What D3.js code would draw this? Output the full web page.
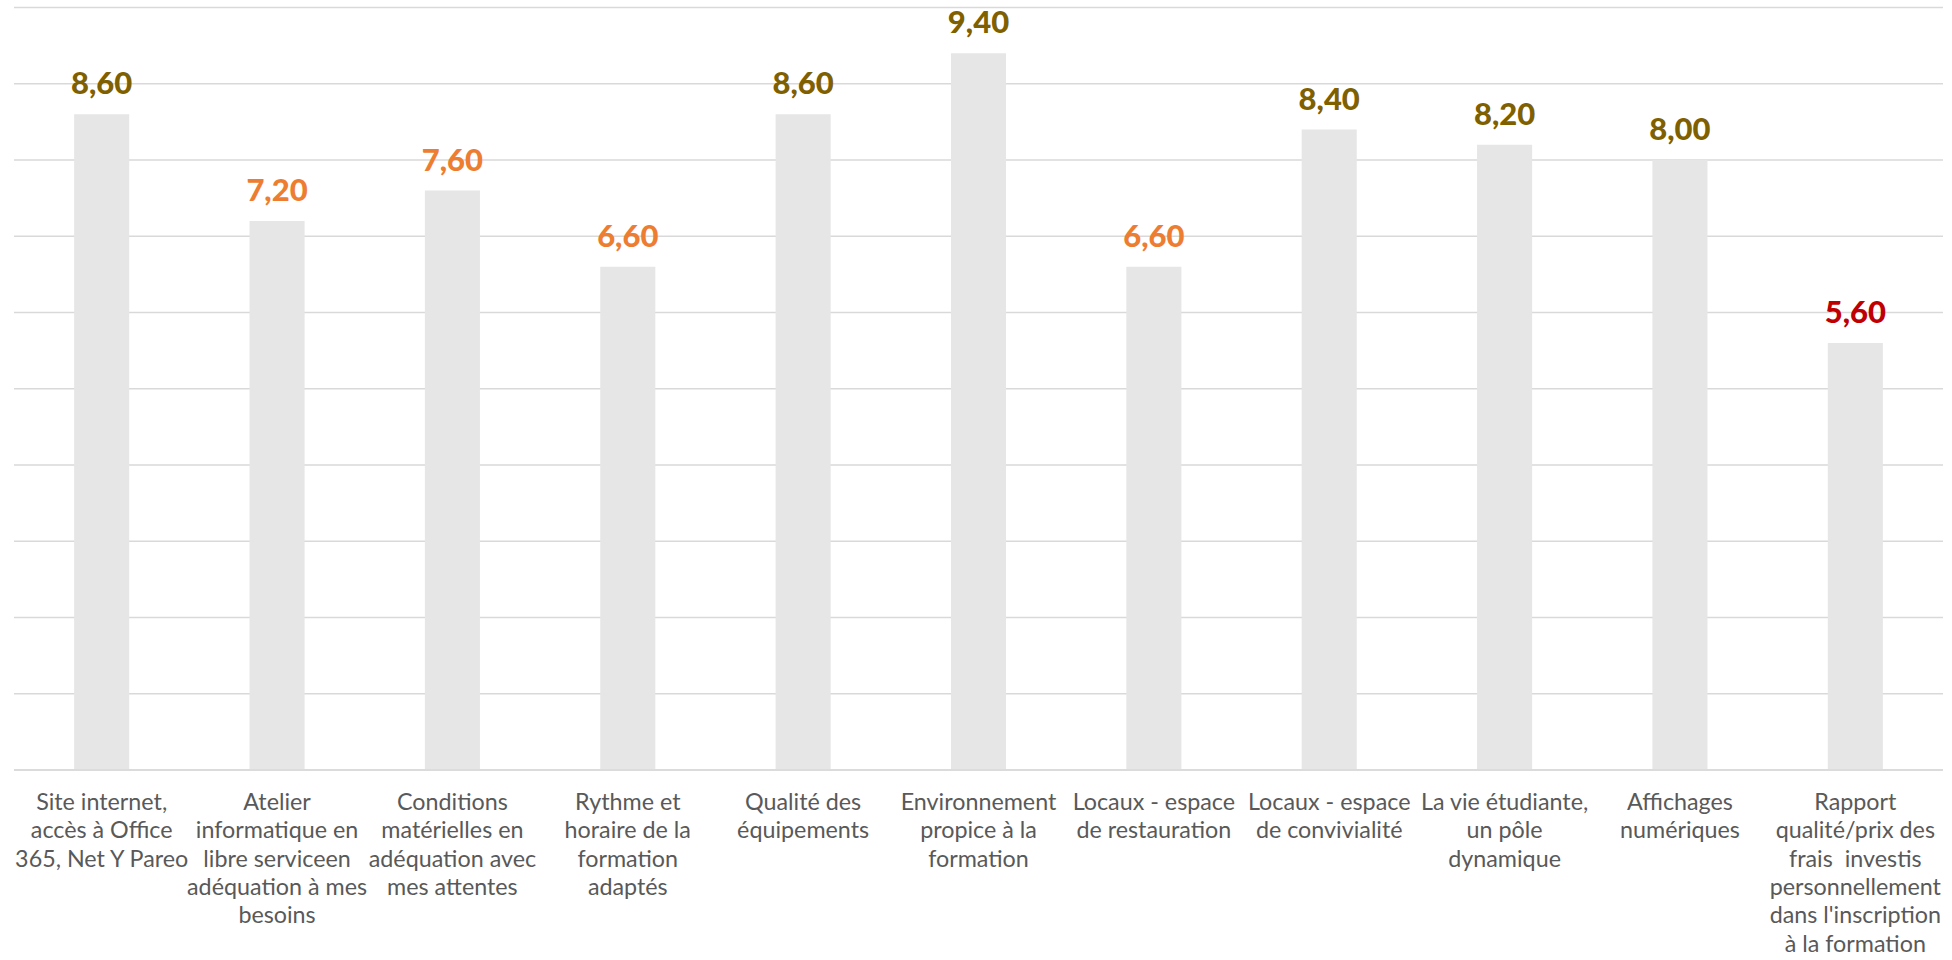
<!DOCTYPE html>
<html><head><meta charset="utf-8">
<script src="https://cdn.jsdelivr.net/npm/d3@7"></script>
<style>html,body{margin:0;padding:0;background:#fff;}svg{display:block;}</style>
</head><body>
<svg id="chart" width="1952" height="960"></svg>
<script>
const categories = [
  "Site internet,\naccès à Office\n365, Net Y Pareo",
  "Atelier\ninformatique en\nlibre serviceen\nadéquation à mes\nbesoins",
  "Conditions\nmatérielles en\nadéquation avec\nmes attentes",
  "Rythme et\nhoraire de la\nformation\nadaptés",
  "Qualité des\néquipements",
  "Environnement\npropice à la\nformation",
  "Locaux - espace\nde restauration",
  "Locaux - espace\nde convivialité",
  "La vie étudiante,\nun pôle\ndynamique",
  "Affichages\nnumériques",
  "Rapport\nqualité/prix des\nfrais  investis\npersonnellement\ndans l'inscription\nà la formation"
];
const values = [8.6, 7.2, 7.6, 6.6, 8.6, 9.4, 6.6, 8.4, 8.2, 8.0, 5.6];
const labelColors = ["#7F6000","#ED7D31","#ED7D31","#ED7D31","#7F6000","#7F6000","#ED7D31","#7F6000","#7F6000","#7F6000","#C00000"];
const yTicks = [0,1,2,3,4,5,6,7,8,9,10];

(function(){
const svg = d3.select("#chart");
const mLeft = 14, mRight = 1943, mTop = 7.5, mBottom = 770;
const x = d3.scaleBand().domain(d3.range(categories.length)).range([mLeft, mRight]).paddingInner(0.686).paddingOuter(0.343);
const y = d3.scaleLinear().domain([0, 10]).range([mBottom, mTop]);

svg.append("g").selectAll("line").data(yTicks).join("line")
  .attr("x1", mLeft).attr("x2", mRight)
  .attr("y1", d => y(d)).attr("y2", d => y(d))
  .attr("stroke", "#d9d9d9").attr("stroke-width", 1.5);

svg.append("g").selectAll("rect").data(values).join("rect")
  .attr("x", (d,i) => x(i)).attr("width", x.bandwidth())
  .attr("y", d => y(d)).attr("height", d => y(0) - y(d))
  .attr("fill", "#e6e6e6");

svg.append("line").attr("x1", mLeft).attr("x2", mRight).attr("y1", y(0)).attr("y2", y(0))
  .attr("stroke", "#d9d9d9").attr("stroke-width", 1.5);

svg.append("g").selectAll("text").data(values).join("text")
  .attr("x", (d,i) => x(i) + x.bandwidth()/2)
  .attr("y", d => y(d) - 20)
  .attr("text-anchor", "middle")
  .attr("font-family", "Lato, 'Open Sans', sans-serif")
  .attr("font-weight", 900)
  .attr("font-size", 31)
  .attr("fill", (d,i) => labelColors[i])
  .text(d => d.toFixed(2).replace(".", ","));

const xAxis = d3.axisBottom(x).tickSize(0).tickFormat("");
const gx = svg.append("g").attr("transform", `translate(0,${mBottom})`).call(xAxis);
gx.select(".domain").remove();
gx.selectAll(".tick").each(function(d, i) {
  const t = d3.select(this).append("text")
    .attr("text-anchor", "middle")
    .attr("font-family", "Lato, 'Open Sans', sans-serif")
    .attr("font-size", 23.3)
    .attr("fill", "#595959")
    .style("white-space", "pre");
  categories[i].split("\n").forEach((line, k) => {
    t.append("tspan").attr("x", 0).attr("y", 40 + k * 28.3).text(line);
  });
});
})();
</script>
</body></html>
